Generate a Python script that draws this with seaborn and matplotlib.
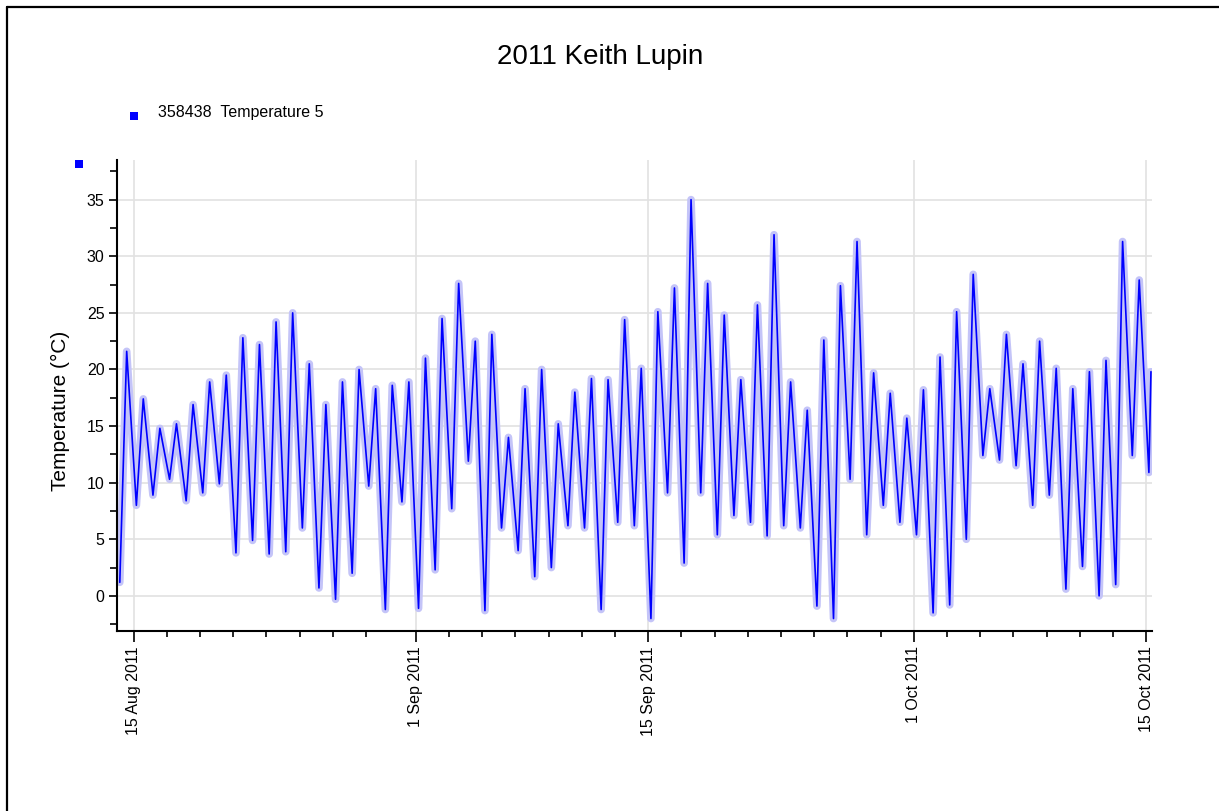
import numpy as np
import pandas as pd
import matplotlib
matplotlib.use("Agg")
import matplotlib.pyplot as plt
import matplotlib.dates as mdates
from matplotlib.patches import Rectangle
from matplotlib.lines import Line2D
import seaborn as sns

# logger 358438, Temperature 5, one low and one high per day
start_day = "2011-08-14"
# early morning lows, 14 Aug .. 15 Oct
day_min = [1.2, 8.0, 8.9, 10.3, 8.4, 9.1, 9.9, 3.8, 4.9, 3.7,
           3.9, 6.0, 0.7, -0.3, 2.0, 9.7, -1.2, 8.3, -1.1, 2.3,
           7.7, 11.9, -1.3, 6.0, 4.0, 1.7, 2.5, 6.2, 6.0, -1.2,
           6.5, 6.2, -2.0, 9.1, 2.9, 9.1, 5.4, 7.1, 6.5, 5.3,
           6.2, 6.0, -0.9, -2.0, 10.3, 5.4, 8.0, 6.5, 5.4, -1.5,
           -0.8, 5.0, 12.4, 12.0, 11.5, 8.0, 8.9, 0.6, 2.6, 0.0,
           1.0, 12.4, 10.9]
# afternoon highs, 14 Aug .. 14 Oct
day_max = [21.6, 17.4, 14.8, 15.2, 16.9, 18.9, 19.5, 22.8, 22.2, 24.2,
           25.0, 20.5, 16.9, 18.9, 20.0, 18.3, 18.6, 18.9, 21.0, 24.5,
           27.6, 22.5, 23.1, 14.0, 18.3, 20.0, 15.2, 18.0, 19.2, 19.1,
           24.4, 20.1, 25.1, 27.2, 35.0, 27.6, 24.8, 19.1, 25.7, 31.9,
           18.9, 16.4, 22.6, 27.4, 31.3, 19.7, 17.9, 15.7, 18.2, 21.1,
           25.1, 28.4, 18.3, 23.1, 20.5, 22.5, 20.1, 18.3, 19.8, 20.8,
           31.3, 27.9]
last_time = "2011-10-15 07:00"
last_val = 19.8

days = pd.date_range(start_day, periods=len(day_min), freq="D")
lows = pd.DataFrame({"time": days + pd.Timedelta(hours=4), "temp": day_min})
highs = pd.DataFrame({"time": days[:len(day_max)] + pd.Timedelta(hours=14), "temp": day_max})
end = pd.DataFrame({"time": [pd.Timestamp(last_time)], "temp": [last_val]})
df = pd.concat([lows, highs, end]).sort_values("time").reset_index(drop=True)

sns.set_style("white")
plt.rcParams["font.family"] = ["Liberation Sans", "DejaVu Sans"]
plt.rcParams["text.color"] = "black"
plt.rcParams["axes.labelcolor"] = "black"
plt.rcParams["xtick.color"] = "black"
plt.rcParams["ytick.color"] = "black"

W, H = 1219, 811
fig = plt.figure(figsize=(12.19, 8.11), dpi=100)
ax = fig.add_axes([117 / W, 1 - 631 / H, (1152 - 117) / W, (631 - 160) / H])

# pale halo then the main trace
sns.lineplot(data=df, x="time", y="temp", color="#c4c4f8", linewidth=5.5, ax=ax)
sns.lineplot(data=df, x="time", y="temp", color="#0000ff", linewidth=1.2, ax=ax)

ax.set_xlim(pd.Timestamp("2011-08-14 00:00"), pd.Timestamp("2011-10-15 08:30"))
ax.set_ylim(-3.1, 38.5)

ax.xaxis.set_major_locator(mdates.DayLocator(bymonthday=[1, 15]))
ax.xaxis.set_minor_locator(mdates.DayLocator(bymonthday=[3, 5, 7, 9, 11, 13, 17, 19, 21, 23, 25, 27, 29]))
ax.xaxis.set_major_formatter(mdates.DateFormatter("%-d %b %Y"))
ax.set_yticks(np.arange(0, 36, 5))
ax.set_yticks(np.arange(-2.5, 38, 5), minor=True)

ax.tick_params(axis="x", which="major", length=8, width=1.2, color="black", labelsize=11.5,
               labelrotation=90, direction="out", bottom=True, pad=3)
ax.tick_params(axis="x", which="minor", length=4, width=1.2, color="black", bottom=True, direction="out")
ax.tick_params(axis="y", which="major", length=6, width=1.2, color="black", labelsize=11.5,
               left=True, direction="out", pad=3)
ax.tick_params(axis="y", which="minor", length=5, width=1.2, color="black", left=True, direction="out")

ax.grid(True, which="major", color="#e2e2e2", linewidth=1.2)
ax.set_axisbelow(True)
sns.despine(ax=ax)
for s in ["left", "bottom"]:
    ax.spines[s].set_color("black")
    ax.spines[s].set_linewidth(1.5)

ax.set_xlabel("")
ax.set_ylabel("Temperature (°C)", fontsize=15)
ax.yaxis.set_label_coords(70 / W, 1 - 411 / H, transform=fig.transFigure)

fig.text(600 / W, 1 - 57 / H, "2011 Keith Lupin", fontsize=20, ha="center", va="center")

# legend entry and the small series marker by the axis
fig.add_artist(Rectangle((130 / W, 1 - 120 / H), 8 / W, 8 / H, transform=fig.transFigure,
                         facecolor="#0000ff", edgecolor="none"))
fig.text(158 / W, 1 - 113 / H, "358438  Temperature 5", fontsize=11.5, ha="left", va="center")
fig.add_artist(Rectangle((75 / W, 1 - 168 / H), 8 / W, 8 / H, transform=fig.transFigure,
                         facecolor="#0000ff", edgecolor="none"))

# frame around the panel
fig.add_artist(Line2D([7 / W, 7 / W], [0, 1 - 7 / H], transform=fig.transFigure, color="black", linewidth=1.6))
fig.add_artist(Line2D([7 / W, 1], [1 - 7 / H, 1 - 7 / H], transform=fig.transFigure, color="black", linewidth=1.6))

fig.savefig("out.png", dpi=100)
